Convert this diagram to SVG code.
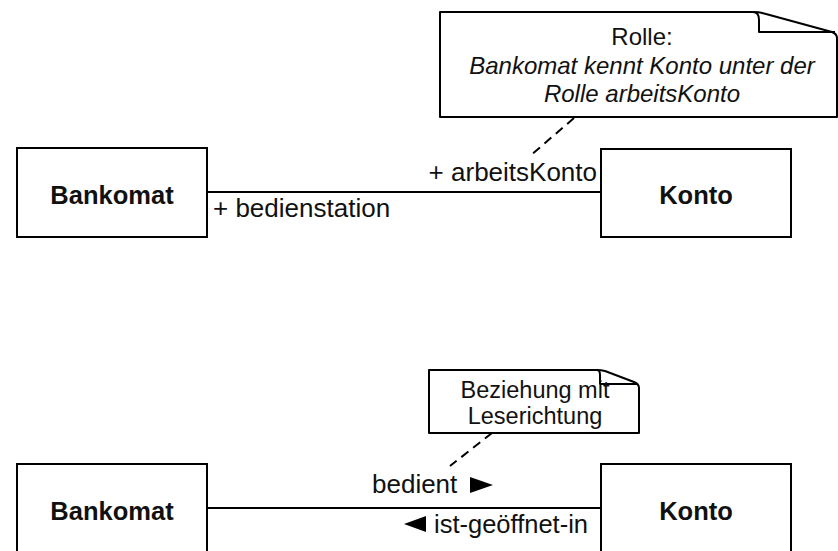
<svg xmlns="http://www.w3.org/2000/svg" width="838" height="551" viewBox="0 0 838 551">
<style>
.box{fill:#fff;stroke:#000;stroke-width:2}
.note{fill:#fff;stroke:#000;stroke-width:2;stroke-linejoin:round}
.fold{fill:none;stroke:#000;stroke-width:2;stroke-linejoin:round}
.line{stroke:#000;stroke-width:2;fill:none}
.dash{stroke:#000;stroke-width:2;fill:none;stroke-dasharray:9 6}
text{font-family:"Liberation Sans",Arial,sans-serif;fill:#111}
.cls{font-size:25.5px;font-weight:bold;text-anchor:middle}
.lbl{font-size:26px}
.nt{font-size:24px;text-anchor:middle}
.nt2{font-size:23.5px;text-anchor:middle}
.it{font-style:italic}
</style>
<rect width="838" height="551" fill="#fff"/>
<g id="connectors">
<line class="line" x1="207" y1="192" x2="601" y2="192"/>
<line class="dash" x1="574" y1="118" x2="530" y2="156"/>
<line class="line" x1="207" y1="508" x2="601" y2="508"/>
<line class="dash" x1="492" y1="433" x2="450" y2="466"/>
<text class="lbl" x="597" y="181" text-anchor="end">+ arbeitsKonto</text>
<text class="lbl" x="213" y="217">+ bedienstation</text>
<text class="lbl" x="372" y="493">bedient</text>
<polygon points="470,477 493,485 470,493" fill="#000"/>
<polygon points="426,516 404,524 426,532" fill="#000"/>
<text class="lbl" x="434" y="533" style="font-size:25.5px">ist-geöffnet-in</text>
</g>
<g id="bankomat1">
<rect class="box" x="17" y="148" width="190" height="89"/>
<text class="cls" x="112" y="204">Bankomat</text>
</g>
<g id="konto1">
<rect class="box" x="601" y="149" width="190" height="88"/>
<text class="cls" x="696" y="204">Konto</text>
</g>
<g id="note1">
<path class="note" d="M440,12 H753 Q760,12 766,14 L832,32 Q837,34 837,38 V117 H440 Z"/>
<path class="fold" d="M753,12 Q759,12 759,20 V32 H835"/>
<text class="nt" x="642" y="45">Rolle:</text>
<text class="nt it" x="642" y="74">Bankomat kennt Konto unter der</text>
<text class="nt it" x="642" y="102">Rolle arbeitsKonto</text>
</g>
<g id="bankomat2">
<rect class="box" x="17" y="464" width="190" height="100"/>
<text class="cls" x="112" y="520">Bankomat</text>
</g>
<g id="konto2">
<rect class="box" x="601" y="464" width="190" height="100"/>
<text class="cls" x="696" y="520">Konto</text>
</g>
<g id="note2">
<path class="note" d="M429,370 H597 Q601,370 605,371 L634,382 Q639,384 639,388 V433 H429 Z"/>
<path class="fold" d="M597,370 Q600,370 600,375 V384 H637"/>
<text class="nt2" x="535" y="398">Beziehung mit</text>
<text class="nt2" x="535" y="424">Leserichtung</text>
</g>
</svg>
